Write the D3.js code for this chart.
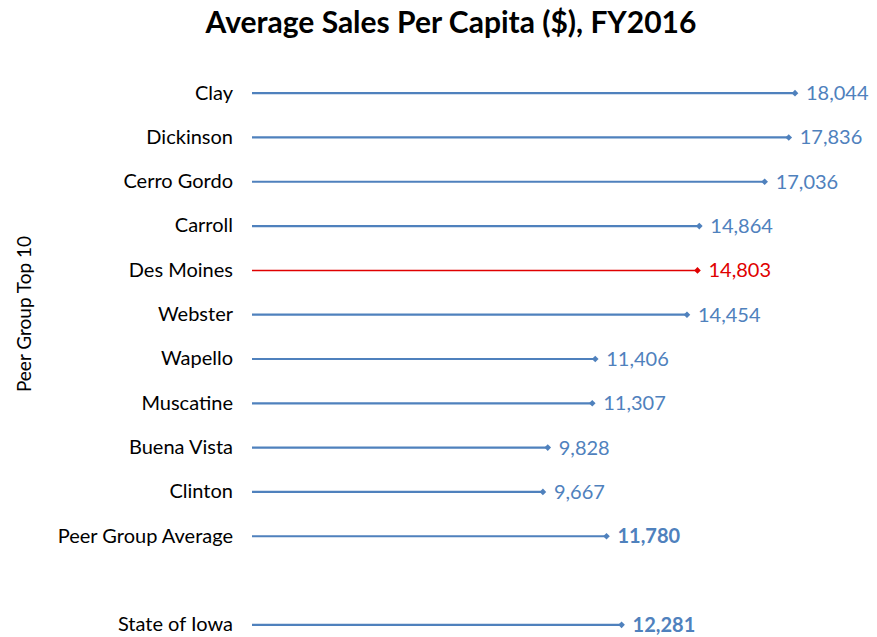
<!DOCTYPE html>
<html>
<head>
<meta charset="utf-8">
<script src="https://cdn.jsdelivr.net/npm/d3@7"></script>
<style>
  body { margin: 0; background: #fff; }
  text { font-family: Lato, "Open Sans", sans-serif; }
</style>
</head>
<body>
<div id="vis"></div>
<script>
const WIDTH = 877;
const HEIGHT = 637;

// datos
const categorias = ["Clay", "Dickinson", "Cerro Gordo", "Carroll", "Des Moines", "Webster",
  "Wapello", "Muscatine", "Buena Vista", "Clinton", "Peer Group Average", "", "State of Iowa"];
const valores = [18044, 17836, 17036, 14864, 14803, 14454, 11406, 11307, 9828, 9667, 11780, null, 12281];
const resaltado = ["Des Moines"];
const negrita = ["Peer Group Average", "State of Iowa"];

const AZUL = "#4F81BD";
const ROJO = "#E00000";

const SVG = d3.select("#vis").append("svg")
  .attr("width", WIDTH)
  .attr("height", HEIGHT);

const datos = categorias.map((c, i) => ({ categoria: c, valor: valores[i], key: c || "vacio" + i }));

const escalaX = d3.scaleLinear()
  .domain([0, 18044])
  .range([252, 795]);

const escalaY = d3.scaleBand()
  .domain(datos.map(d => d.key))
  .range([71, 647])
  .paddingInner(0);

const centro = d => escalaY(d.key) + escalaY.bandwidth() / 2;

// titulo
SVG.append("text")
  .attr("x", 451)
  .attr("y", 33)
  .attr("text-anchor", "middle")
  .attr("font-size", 30)
  .attr("font-weight", "bold")
  .attr("fill", "#000")
  .text("Average Sales Per Capita ($), FY2016");

// titulo eje y
SVG.append("text")
  .attr("transform", "translate(31, 314) rotate(-90)")
  .attr("text-anchor", "middle")
  .attr("font-size", 19)
  .attr("fill", "#000")
  .text("Peer Group Top 10");

const ejeY = d3.axisLeft(escalaY)
  .tickSize(0)
  .tickPadding(0)
  .tickFormat(k => k.startsWith("vacio") ? "" : k);

SVG.append("g")
  .attr("transform", "translate(233, 0)")
  .call(ejeY)
  .call(g => g.select(".domain").remove())
  .call(g => g.selectAll("text")
    .attr("font-size", 20)
    .attr("fill", "#000")
    .style("font-family", "Lato, 'Open Sans', sans-serif"));

const filas = datos.filter(d => d.valor !== null);

const color = d => resaltado.includes(d.categoria) ? ROJO : AZUL;

SVG.append("g")
  .selectAll("line")
  .data(filas)
  .join("line")
  .attr("x1", escalaX(0))
  .attr("x2", d => escalaX(d.valor))
  .attr("y1", centro)
  .attr("y2", centro)
  .attr("stroke", color)
  .attr("stroke-width", d => resaltado.includes(d.categoria) ? 1.5 : 2.2);

SVG.append("g")
  .selectAll("path")
  .data(filas)
  .join("path")
  .attr("d", d3.symbol(d3.symbolDiamond2, 28))
  .attr("transform", d => `translate(${escalaX(d.valor)}, ${centro(d)})`)
  .attr("fill", color);

SVG.append("g")
  .selectAll("text")
  .data(filas)
  .join("text")
  .attr("x", d => escalaX(d.valor) + 11)
  .attr("y", centro)
  .attr("dy", "0.35em")
  .attr("font-size", 20)
  .attr("font-weight", d => negrita.includes(d.categoria) ? "bold" : "normal")
  .attr("fill", color)
  .text(d => d3.format(",")(d.valor));
</script>
</body>
</html>
